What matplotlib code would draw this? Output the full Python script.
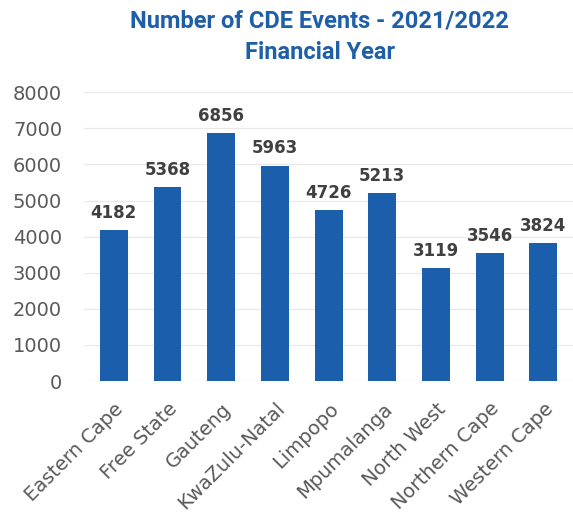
import matplotlib.pyplot as plt

# Data
provinces = ['Eastern Cape', 'Free State', 'Gauteng', 'KwaZulu-Natal', 'Limpopo',
             'Mpumalanga', 'North West', 'Northern Cape', 'Western Cape']
events = [4182, 5368, 6856, 5963, 4726, 5213, 3119, 3546, 3824]
yticks = [0, 1000, 2000, 3000, 4000, 5000, 6000, 7000, 8000]

fig = plt.figure(figsize=(5.73, 5.15), dpi=100)
ax = fig.add_axes([0.147, 0.26, 0.853, 0.561])

x = range(len(provinces))
bars = ax.bar(x, events, width=0.52, color='#1b5eab', zorder=3)

# Etykiety wartości nad słupkami
for xi, v in zip(x, events):
    ax.annotate(str(v), (xi, v), xytext=(0, 6), textcoords='offset points',
                ha='center', va='bottom', fontsize=12, fontweight='bold', color='#404040')

ax.set_xlim(-0.55, len(provinces) - 0.45)
ax.set_ylim(0, 8000)
ax.set_yticks(yticks)
ax.set_yticklabels([str(t) for t in yticks], fontsize=14, color='#595959')
ax.set_xticks(list(x))
ax.set_xticklabels(provinces, rotation=45, ha='right', rotation_mode='anchor',
                   fontsize=14, color='#595959')
ax.tick_params(axis='y', length=0, pad=16)
ax.tick_params(axis='x', length=0, pad=13)
ax.grid(axis='y', color='#e8e8e8', linewidth=0.9, zorder=0)
for s in ax.spines.values():
    s.set_visible(False)

fig.text(0.558, 0.982, 'Number of CDE Events - 2021/2022\nFinancial Year',
         ha='center', va='top', fontsize=17, fontweight='bold', color='#1f5fa8',
         family='Roboto', linespacing=1.5)

plt.savefig('out.png', dpi=100)
